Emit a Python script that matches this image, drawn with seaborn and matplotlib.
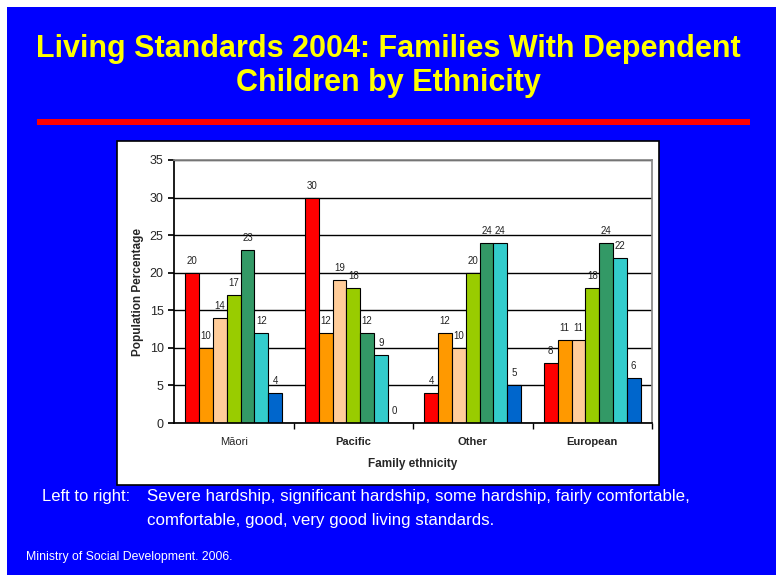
import matplotlib
matplotlib.use("Agg")
import matplotlib.pyplot as plt
from matplotlib.patches import Rectangle
import pandas as pd
import seaborn as sns

# data
groups = ["Māori", "Pacific", "Other", "European"]
standards = [
    "Severe hardship",
    "Significant hardship",
    "Some hardship",
    "Fairly comfortable",
    "Comfortable",
    "Good",
    "Very good",
]
maori = [20, 10, 14, 17, 23, 12, 4]
pacific = [30, 12, 19, 18, 12, 9, 0]
other = [4, 12, 10, 20, 24, 24, 5]
european = [8, 11, 11, 18, 24, 22, 6]
palette = ["#FF0000", "#FF9900", "#FFCC99", "#99CC00", "#339966", "#33CCCC", "#0066CC"]

rows = []
for g, vals in zip(groups, [maori, pacific, other, european]):
    for s, v in zip(standards, vals):
        rows.append({"Family ethnicity": g, "Standard": s, "Population Percentage": v})
df = pd.DataFrame(rows)

sns.set_theme(style="white")
plt.rcParams["font.family"] = ["Liberation Sans", "DejaVu Sans"]

W, H = 776, 575
fig = plt.figure(figsize=(W / 100, H / 100), dpi=100)
fig.patch.set_facecolor("white")


def fx(x):
    return x / W


def fy(y):
    return 1 - y / H


# slide background, red rule and white chart panel
fig.patches.append(Rectangle((fx(7), 0), 1, fy(7), transform=fig.transFigure,
                             facecolor="#0000FF", edgecolor="none", zorder=0))
fig.patches.append(Rectangle((fx(37), fy(125)), fx(750 - 37), 6 / H, transform=fig.transFigure,
                             facecolor="#FF0000", edgecolor="none", zorder=1))
fig.patches.append(Rectangle((fx(117), fy(485)), fx(659 - 117), (485 - 141) / H,
                             transform=fig.transFigure, facecolor="white",
                             edgecolor="black", linewidth=1.2, zorder=1))

fig.text(0.5, fy(49), "Living Standards 2004: Families With Dependent", ha="center", va="center",
         color="#FFFF00", fontsize=22, fontweight="bold")
fig.text(0.5, fy(83), "Children by Ethnicity", ha="center", va="center",
         color="#FFFF00", fontsize=22, fontweight="bold")

ax = fig.add_axes([fx(174), fy(423), fx(652 - 174), (423 - 160) / H])
ax.set_zorder(2)
sns.barplot(data=df, x="Family ethnicity", y="Population Percentage", hue="Standard",
            hue_order=standards, order=groups, palette=palette, width=0.81, gap=0,
            edgecolor="black", linewidth=0.8, saturation=1, legend=False, ax=ax)

for c in ax.containers:
    ax.bar_label(c, fontsize=7, padding=5, color="#222222")

ax.set_ylim(0, 35)
ax.set_yticks(range(0, 36, 5))
ax.set_xlim(-0.5, 3.5)
ax.yaxis.grid(True, color="black", linewidth=1)
ax.set_axisbelow(True)
for side in ["top", "right"]:
    ax.spines[side].set_color("#888888")
for side in ["left", "bottom"]:
    ax.spines[side].set_color("black")

ax.set_xticks([0, 1, 2, 3])
ax.set_xticklabels(groups)
for i, lab in enumerate(ax.get_xticklabels()):
    lab.set_fontsize(8)
    lab.set_fontweight("normal" if i == 0 else "bold")
ax.tick_params(axis="x", length=0, pad=10)
ax.set_xticks([0.5, 1.5, 2.5, 3.5], minor=True)
ax.tick_params(axis="x", which="minor", length=4, direction="out", bottom=True, color="black")
ax.tick_params(axis="y", labelsize=9, length=4, direction="out", left=True, color="black")
ax.set_ylabel("Population Percentage", fontsize=8.5, fontweight="bold", labelpad=4)
ax.set_xlabel("Family ethnicity", fontsize=8.5, fontweight="bold", labelpad=8)

fig.text(fx(42), fy(497), "Left to right:", ha="left", va="center", color="white", fontsize=12)
fig.text(fx(147), fy(497), "Severe hardship, significant hardship, some hardship, fairly comfortable,",
         ha="left", va="center", color="white", fontsize=12.2)
fig.text(fx(147), fy(521), "comfortable, good, very good living standards.",
         ha="left", va="center", color="white", fontsize=12.2)
fig.text(fx(26), fy(557), "Ministry of Social Development. 2006.", ha="left", va="center",
         color="white", fontsize=8.8)

fig.savefig("out.png", dpi=100)
plt.close(fig)
